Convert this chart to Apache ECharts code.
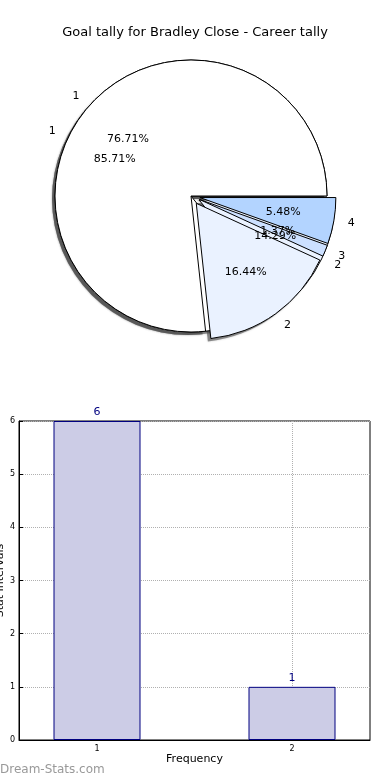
<!DOCTYPE html>
<html>
<head>
<meta charset="utf-8">
<script src="https://cdn.jsdelivr.net/npm/echarts@6/dist/echarts.min.js"></script>
<style>
html,body{margin:0;padding:0;background:#fff;}
#chart{width:390px;height:780px;}
</style>
</head>
<body>
<div id="chart"></div>
<script>
// ---- data ----
var titleText = 'Goal tally for Bradley Close - Career tally';
var pieOuterNames = ['1', '2', '3', '4'];
var pieOuterValues = [56, 12, 1, 4];
var pieOuterExploded = [false, true, true, true];
var pieInnerNames = ['1', '2'];
var pieInnerValues = [6, 1];
var pieInnerExploded = [false, true];
var barCategories = [1, 2];
var barValues = [6, 1];
var xAxisTicks = [1, 2];
var yAxisName = 'Stat Intervals';
var xAxisName = 'Frequency';
var watermark = 'Dream-Stats.com';

// ---- styling ----
var FONT = 'DejaVu Sans';
var sliceColors = ['#ffffff', '#eaf2ff', '#cce0ff', '#b3d4ff'];
var R = 136;
var CENTER = [191, 196];
var SHADOW_CENTER = [188, 199];
var OFFSET = 9;

function baseItems(names, values, exploded, colorFn) {
  return names.map(function (n, i) {
    return { name: n, value: values[i], selected: exploded[i], itemStyle: { color: colorFn(i) } };
  });
}

function basePie(center, radius, z) {
  return {
    type: 'pie',
    z: z,
    center: center,
    radius: radius,
    startAngle: 0,
    clockwise: false,
    avoidLabelOverlap: false,
    labelLayout: { hideOverlap: false },
    selectedMode: 'multiple',
    selectedOffset: OFFSET,
    silent: true,
    animation: false,
    percentPrecision: 2,
    emphasis: { disabled: true }
  };
}

function shadowPie(names, values, exploded, z) {
  var s = basePie(SHADOW_CENTER, [0, R], z);
  s.itemStyle = { borderWidth: 0, shadowBlur: 2, shadowColor: 'rgba(60,60,60,0.5)' };
  s.label = { show: false };
  s.labelLine = { show: false };
  s.data = baseItems(names, values, exploded, function () { return 'rgba(70,70,70,0.55)'; });
  return s;
}

function drawPie(names, values, exploded, z) {
  var s = basePie(CENTER, [0, R], z);
  s.itemStyle = { borderColor: '#000', borderWidth: 1 };
  s.label = {
    show: true,
    position: 'outside',
    formatter: '{b}',
    color: '#000',
    fontFamily: FONT,
    fontSize: 11,
    distanceToLabelLine: 0
  };
  s.labelLine = { show: false, length: 14, length2: 0 };
  s.data = baseItems(names, values, exploded, function (i) { return sliceColors[i % sliceColors.length]; });
  return s;
}

function pctPie(names, values, exploded, z) {
  var s = basePie(CENTER, [0, R * 1.2], z);
  s.itemStyle = { color: 'rgba(0,0,0,0)', borderWidth: 0 };
  s.label = {
    show: true,
    position: 'inside',
    formatter: '{d}%',
    color: '#000',
    fontFamily: FONT,
    fontSize: 11
  };
  s.labelLine = { show: false };
  s.data = baseItems(names, values, exploded, function () { return 'rgba(0,0,0,0)'; });
  return s;
}

var chart = echarts.init(document.getElementById('chart'), null, { renderer: 'canvas' });

var option = {
  backgroundColor: '#fff',
  animation: false,
  textStyle: { fontFamily: FONT },
  title: {
    text: titleText,
    left: 'center',
    top: 21,
    textStyle: { fontFamily: FONT, fontSize: 13, fontWeight: 'normal', color: '#000' }
  },
  grid: {
    left: 19, top: 421, width: 351, height: 319,
    show: true, borderColor: '#000', borderWidth: 1, backgroundColor: 'transparent',
    containLabel: false,
    outerBoundsMode: 'none'
  },
  xAxis: {
    type: 'value',
    min: 0.6, max: 2.4,
    name: xAxisName,
    nameLocation: 'middle',
    nameGap: 14,
    nameMoveOverlap: false,
    nameTextStyle: { fontFamily: FONT, fontSize: 11, color: '#000' },
    axisLine: { show: true, lineStyle: { color: '#000' } },
    axisTick: { show: true, inside: true, length: 4, customValues: xAxisTicks, lineStyle: { color: '#000' } },
    axisLabel: { customValues: xAxisTicks, fontFamily: FONT, fontSize: 8, color: '#000', margin: 5 },
    splitLine: { show: true, lineStyle: { color: '#b0b0b0', type: 'dotted', width: 1 } }
  },
  yAxis: {
    type: 'value',
    min: 0, max: 6, interval: 1,
    name: yAxisName,
    nameLocation: 'middle',
    nameGap: 13,
    nameRotate: 90,
    nameMoveOverlap: false,
    nameTextStyle: { fontFamily: FONT, fontSize: 11, color: '#000' },
    axisLine: { show: true, lineStyle: { color: '#000' } },
    axisTick: { show: true, inside: true, length: 4, lineStyle: { color: '#000' } },
    axisLabel: { fontFamily: FONT, fontSize: 8, color: '#000', margin: 4 },
    splitLine: { show: true, lineStyle: { color: '#b0b0b0', type: 'dotted', width: 1 } }
  },
  graphic: [{
    type: 'text',
    left: 0,
    top: 764,
    style: { text: watermark, fontFamily: FONT, fontSize: 12, fill: '#999' }
  }],
  series: [
    shadowPie(pieInnerNames, pieInnerValues, pieInnerExploded, 1),
    shadowPie(pieOuterNames, pieOuterValues, pieOuterExploded, 1),
    drawPie(pieInnerNames, pieInnerValues, pieInnerExploded, 2),
    drawPie(pieOuterNames, pieOuterValues, pieOuterExploded, 3),
    pctPie(pieOuterNames, pieOuterValues, pieOuterExploded, 5),
    pctPie(pieInnerNames, pieInnerValues, pieInnerExploded, 5),
    {
      type: 'bar',
      data: barCategories.map(function (c, i) { return [c, barValues[i]]; }),
      barWidth: 87,
      itemStyle: { color: '#ccccE6', borderColor: '#000080', borderWidth: 1 },
      label: { show: true, position: 'top', distance: 3, color: '#000080', fontFamily: FONT, fontSize: 11 },
      emphasis: { disabled: true },
      silent: true
    }
  ]
};
chart.setOption(option);
</script>
</body>
</html>
